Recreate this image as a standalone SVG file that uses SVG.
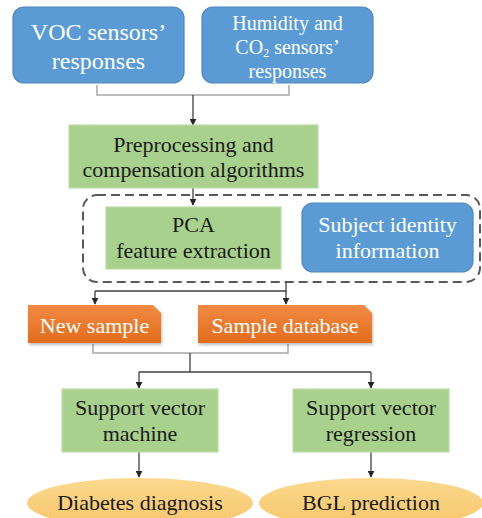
<svg xmlns="http://www.w3.org/2000/svg" width="482" height="518" viewBox="0 0 482 518">
  <defs>
    <style>
      text { font-family: "Liberation Serif", "Times New Roman", Times, Tinos, "Noto Serif", "DejaVu Serif", FreeSerif, Georgia, serif; text-anchor: middle; }
      .blue { fill: #5b9bd5; stroke: #4f88bd; stroke-width: 1.2; }
      .green { fill: #a9d18e; stroke: #bcdca7; stroke-width: 1.2; }
      .orange { fill: url(#orangeGrad); filter: url(#shadow); }
      .oval { fill: url(#ovalGrad); }
      .wt { fill: #ffffff; }
      .dk { fill: #1a1a1a; }
      .bracket { fill: none; stroke: #a6a6a6; stroke-width: 1.5; }
      .line { fill: none; stroke: #404040; stroke-width: 1.3; }
      .arrow { fill: none; stroke: #404040; stroke-width: 1.3; marker-end: url(#head); }
      .dash { fill: none; stroke: #595959; stroke-width: 2; stroke-dasharray: 9 5; }
    </style>
    <marker id="head" viewBox="0 0 10 10" refX="9" refY="5" markerWidth="7" markerHeight="7" markerUnits="userSpaceOnUse" orient="auto">
      <path d="M0,0 L10,5 L0,10 z" fill="#262626"/>
    </marker>
    <linearGradient id="orangeGrad" x1="0" y1="0" x2="0" y2="1">
      <stop offset="0" stop-color="#f28a43"/>
      <stop offset="1" stop-color="#e36c1c"/>
    </linearGradient>
    <linearGradient id="ovalGrad" x1="0" y1="0" x2="0" y2="1">
      <stop offset="0" stop-color="#fbd98f"/>
      <stop offset="1" stop-color="#f7c56a"/>
    </linearGradient>
    <filter id="shadow" x="-10%" y="-20%" width="130%" height="150%">
      <feDropShadow dx="1" dy="2" stdDeviation="1.5" flood-color="#000" flood-opacity="0.25"/>
    </filter>
  </defs>

  <!-- connectors -->
  <g id="connectors">
    <path class="bracket" d="M97,85 V95 H289 V85"/>
    <path class="arrow" d="M193,95 V125"/>
    <path class="arrow" d="M193,188 V205"/>
    <rect class="dash" x="83" y="195" width="397" height="87" rx="14"/>
    <path class="line" d="M286,282 V291 H95"/>
    <path class="arrow" d="M95,291 V304"/>
    <path class="arrow" d="M286,291 V304"/>
    <path class="bracket" d="M93,344 V353 H288 V344"/>
    <path class="line" d="M190,353 V372"/>
    <path class="line" d="M139,372 H371"/>
    <path class="arrow" d="M139,372 V388"/>
    <path class="arrow" d="M371,372 V388"/>
    <path class="arrow" d="M139,452 V477"/>
    <path class="arrow" d="M371,452 V477"/>
  </g>

  <g id="voc">
    <rect class="blue" x="13" y="7" width="171" height="76" rx="11"/>
    <text class="wt" x="98.5" y="40" font-size="24">VOC sensors’</text>
    <text class="wt" x="98.5" y="69" font-size="24">responses</text>
  </g>

  <g id="humidity">
    <rect class="blue" x="202" y="7" width="171" height="76" rx="11"/>
    <text class="wt" x="287.5" y="30" font-size="20">Humidity and</text>
    <text class="wt" x="287.5" y="54" font-size="20">CO<tspan font-size="12" dy="3">2</tspan><tspan dy="-3"> sensors’</tspan></text>
    <text class="wt" x="287.5" y="78" font-size="20">responses</text>
  </g>

  <g id="preprocessing">
    <rect class="green" x="69" y="125" width="249" height="63"/>
    <text class="dk" x="193.5" y="152" font-size="22">Preprocessing and</text>
    <text class="dk" x="193.5" y="177" font-size="22">compensation algorithms</text>
  </g>

  <g id="pca">
    <rect class="green" x="106" y="207" width="175" height="62"/>
    <text class="dk" x="193.5" y="232" font-size="22">PCA</text>
    <text class="dk" x="193.5" y="258" font-size="22">feature extraction</text>
  </g>

  <g id="subject">
    <rect class="blue" x="302" y="203" width="171" height="69" rx="11"/>
    <text class="wt" x="387.5" y="232" font-size="22">Subject identity</text>
    <text class="wt" x="387.5" y="258" font-size="22">information</text>
  </g>

  <g id="new-sample">
    <path class="orange" d="M28,305 H153 L161,313 V343 H28 Z"/>
    <text class="wt" x="94.5" y="333" font-size="22">New sample</text>
  </g>

  <g id="sample-database">
    <path class="orange" d="M198,305 H364 L372,313 V343 H198 Z"/>
    <text class="wt" x="285" y="333" font-size="22">Sample database</text>
  </g>

  <g id="svm">
    <rect class="green" x="62" y="389" width="156" height="63"/>
    <text class="dk" x="140" y="415" font-size="22">Support vector</text>
    <text class="dk" x="140" y="441" font-size="22">machine</text>
  </g>

  <g id="svr">
    <rect class="green" x="293" y="389" width="156" height="63"/>
    <text class="dk" x="371" y="415" font-size="22">Support vector</text>
    <text class="dk" x="371" y="441" font-size="22">regression</text>
  </g>

  <g id="diagnosis">
    <ellipse class="oval" cx="140" cy="503" rx="113" ry="25"/>
    <text class="dk" x="140" y="510" font-size="22">Diabetes diagnosis</text>
  </g>

  <g id="bgl">
    <ellipse class="oval" cx="371" cy="503" rx="112" ry="25"/>
    <text class="dk" x="371" y="510" font-size="22">BGL prediction</text>
  </g>
</svg>
